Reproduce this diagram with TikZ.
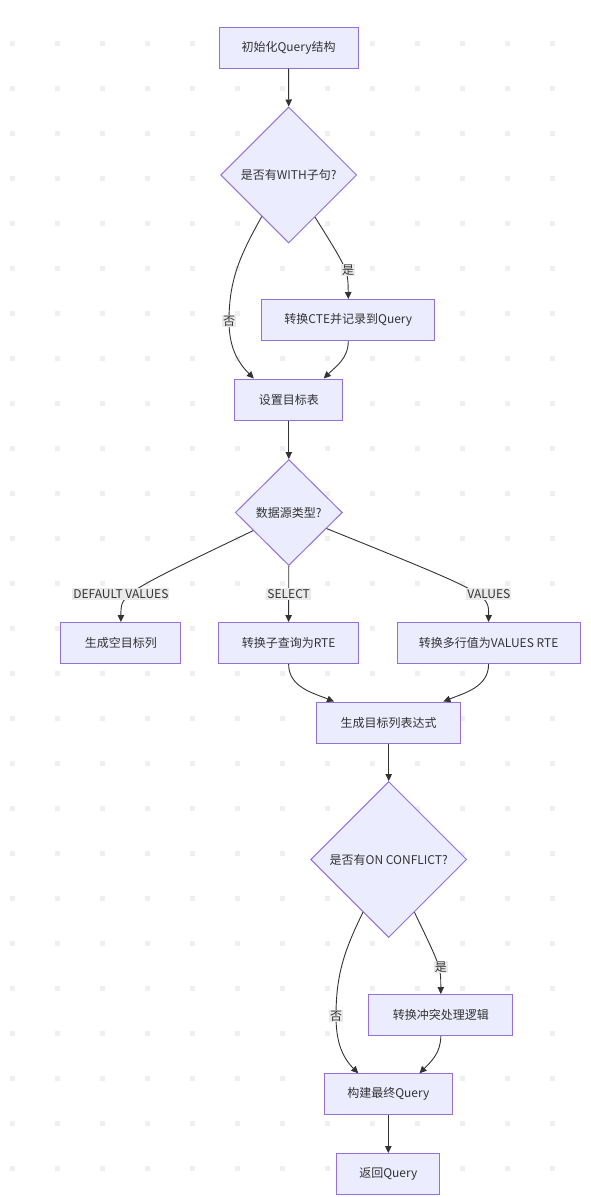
\documentclass[tikz,border=0pt]{standalone}
\usepackage{fontspec}
\newfontfamily\cjkfont{Noto Sans CJK SC}
\usepackage{tikz}
\usetikzlibrary{shapes.geometric,arrows.meta}
\definecolor{nodefill}{HTML}{ECECFF}
\definecolor{nodeline}{HTML}{9370DB}
\definecolor{edgeline}{HTML}{333333}
\definecolor{labelfill}{HTML}{EAEAEA}
\definecolor{dotgray}{HTML}{EFEFEF}

\begin{document}
\begin{tikzpicture}[
  x=1pt, y=1pt,
  stepbox/.style={rectangle, draw=nodeline, fill=nodefill, line width=1pt, minimum height=41pt, inner sep=0pt, font=\cjkfont\fontsize{12}{14}\selectfont, text=edgeline},
  decision/.style={diamond, aspect=1, draw=nodeline, fill=nodefill, line width=1pt, inner sep=0pt, font=\cjkfont\fontsize{12}{14}\selectfont, text=edgeline},
  flow/.style={draw=edgeline, line width=0.9pt, -{Triangle[length=7pt,width=6.5pt]}},
  elabel/.style={fill=labelfill, inner sep=1pt, font=\cjkfont\fontsize{12}{14}\selectfont, text=edgeline},
]
\fill[white] (0,0) rectangle (591,-1197);
\useasboundingbox (0,0) rectangle (591,-1197);

% Dot grid
\foreach \gx in {0,...,12}
  \foreach \gy in {0,...,25}
    \fill[dotgray] (10+45*\gx,-41-45*\gy) rectangle ++(5,-5);

% WITH clause
\node[stepbox, minimum width=139pt] (S1) at (288.6,-47.5) {初始化Query结构};
\node[decision, minimum width=136pt, minimum height=136pt] (D1) at (288.7,-175) {是否有WITH子句?};
\node[stepbox, minimum width=173pt] (S2) at (348.3,-320) {转换CTE并记录到Query};
\node[stepbox, minimum width=108pt] (S3) at (288.8,-399.5) {设置目标表};

% Data source
\node[decision, minimum width=107pt, minimum height=106pt] (D2) at (288.8,-512.5) {数据源类型?};
\node[stepbox, minimum width=120pt] (S4) at (120.9,-643) {生成空目标列};
\node[stepbox, minimum width=140pt] (S5) at (288.6,-643) {转换子查询为RTE};
\node[stepbox, minimum width=183pt] (S6) at (488.6,-643) {转换多行值为VALUES RTE};
\node[stepbox, minimum width=144pt] (S7) at (388.7,-722.5) {生成目标列表达式};

% ON CONFLICT
\node[decision, minimum width=156pt, minimum height=156pt] (D3) at (388.7,-859.5) {是否有ON CONFLICT?};
\node[stepbox, minimum width=144pt] (S8) at (440.8,-1015) {转换冲突处理逻辑};
\node[stepbox, minimum width=128pt] (S9) at (388.3,-1094.3) {构建最终Query};
\node[stepbox, minimum width=103pt] (S10) at (388.3,-1174) {返回Query};

% Label points
\coordinate (K1) at (348,-270);
\coordinate (K2) at (229,-321);
\coordinate (K3) at (120.9,-594);
\coordinate (K4) at (488.8,-594);
\coordinate (K5) at (440.8,-967);
\coordinate (K6) at (336,-1016);

% Arrows
\draw[flow] (S1.south) -- (D1.north);
\draw[flow] (D1.-58) .. controls (K1) .. (S2.north);
\draw[flow] (D1.-123) to[out=-119,in=90] (K2) to[out=-90,in=135] (S3.149);
\draw[flow] (S2.south) to[out=-90,in=45] (S3.31);
\draw[flow] (S3.south) -- (D2.north);
\draw[flow] (D2.-153) .. controls (K3) .. (S4.north);
\draw[flow] (D2.south) -- node[elabel] (L3) {SELECT} (S5.north);
\draw[flow] (D2.-23) .. controls (K4) .. (S6.north);
\draw[flow] (S5.south) to[out=-90,in=158] (S7.159);
\draw[flow] (S6.south) to[out=-90,in=22] (S7.21);
\draw[flow] (S7.south) -- (D3.north);
\draw[flow] (D3.-64) .. controls (K5) .. (S8.north);
\draw[flow] (D3.-116) to[out=-116,in=90] (K6) to[out=-90,in=135] (S9.145);
\draw[flow] (S8.south) to[out=-90,in=45] (S9.34.5);
\draw[flow] (S9.south) -- (S10.north);

% Edge labels
\node[elabel] (L1) at (K1) {是};
\node[elabel] (L2) at (K2) {否};
\node[elabel] (L4) at (K3) {DEFAULT VALUES};
\node[elabel] (L5) at (K4) {VALUES};
\node[elabel] (L6) at (K5) {是};
\node[elabel] (L7) at (K6) {否};
\end{tikzpicture}
\end{document}
